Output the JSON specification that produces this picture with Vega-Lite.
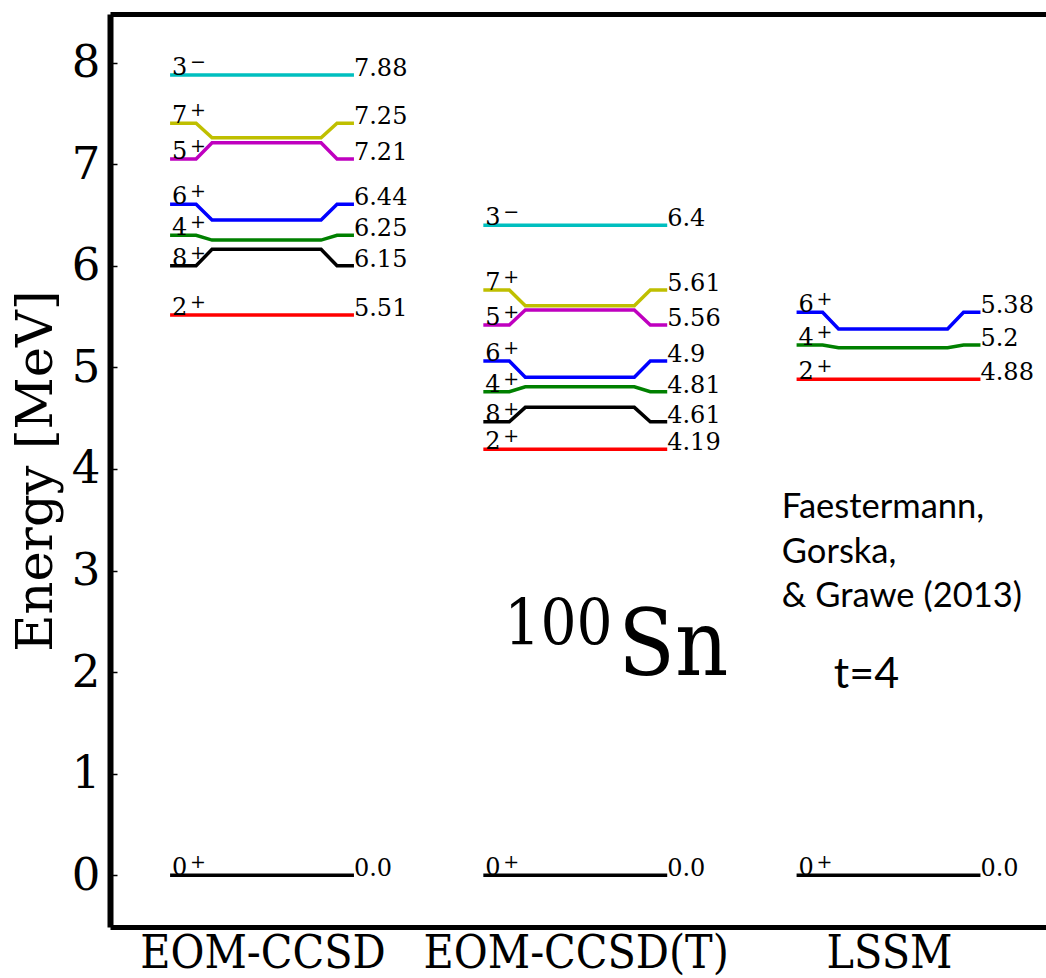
{
  "$schema": "https://vega.github.io/schema/vega-lite/v6.json",
  "width": 936,
  "height": 913,
  "autosize": {"type": "none"},
  "padding": {"left": 110, "top": 14, "right": 0, "bottom": 51},
  "background": "white",
  "config": {"view": {"stroke": null}},
  "datasets": {
    "lines": [
      {"m":"A","s":"3-","o":1,"x":-0.295,"y":7.88},{"m":"A","s":"3-","o":6,"x":0.292,"y":7.88},
      {"m":"A","s":"7+","o":1,"x":-0.295,"y":7.404},{"m":"A","s":"7+","o":2,"x":-0.212,"y":7.404},{"m":"A","s":"7+","o":3,"x":-0.161,"y":7.262},{"m":"A","s":"7+","o":4,"x":0.187,"y":7.262},{"m":"A","s":"7+","o":5,"x":0.238,"y":7.404},{"m":"A","s":"7+","o":6,"x":0.292,"y":7.404},
      {"m":"A","s":"5+","o":1,"x":-0.295,"y":7.052},{"m":"A","s":"5+","o":2,"x":-0.212,"y":7.052},{"m":"A","s":"5+","o":3,"x":-0.161,"y":7.213},{"m":"A","s":"5+","o":4,"x":0.187,"y":7.213},{"m":"A","s":"5+","o":5,"x":0.238,"y":7.052},{"m":"A","s":"5+","o":6,"x":0.292,"y":7.052},
      {"m":"A","s":"6+","o":1,"x":-0.295,"y":6.606},{"m":"A","s":"6+","o":2,"x":-0.212,"y":6.606},{"m":"A","s":"6+","o":3,"x":-0.161,"y":6.451},{"m":"A","s":"6+","o":4,"x":0.187,"y":6.451},{"m":"A","s":"6+","o":5,"x":0.238,"y":6.606},{"m":"A","s":"6+","o":6,"x":0.292,"y":6.606},
      {"m":"A","s":"4+","o":1,"x":-0.295,"y":6.301},{"m":"A","s":"4+","o":2,"x":-0.212,"y":6.301},{"m":"A","s":"4+","o":3,"x":-0.161,"y":6.254},{"m":"A","s":"4+","o":4,"x":0.187,"y":6.254},{"m":"A","s":"4+","o":5,"x":0.238,"y":6.301},{"m":"A","s":"4+","o":6,"x":0.292,"y":6.301},
      {"m":"A","s":"8+","o":1,"x":-0.295,"y":6.001},{"m":"A","s":"8+","o":2,"x":-0.212,"y":6.001},{"m":"A","s":"8+","o":3,"x":-0.161,"y":6.163},{"m":"A","s":"8+","o":4,"x":0.187,"y":6.163},{"m":"A","s":"8+","o":5,"x":0.238,"y":6.001},{"m":"A","s":"8+","o":6,"x":0.292,"y":6.001},
      {"m":"A","s":"2+","o":1,"x":-0.295,"y":5.515},{"m":"A","s":"2+","o":6,"x":0.292,"y":5.515},
      {"m":"A","s":"0+","o":1,"x":-0.295,"y":0},{"m":"A","s":"0+","o":6,"x":0.292,"y":0},
      {"m":"B","s":"3-","o":1,"x":0.705,"y":6.40},{"m":"B","s":"3-","o":6,"x":1.292,"y":6.40},
      {"m":"B","s":"7+","o":1,"x":0.705,"y":5.762},{"m":"B","s":"7+","o":2,"x":0.788,"y":5.762},{"m":"B","s":"7+","o":3,"x":0.839,"y":5.608},{"m":"B","s":"7+","o":4,"x":1.187,"y":5.608},{"m":"B","s":"7+","o":5,"x":1.238,"y":5.762},{"m":"B","s":"7+","o":6,"x":1.292,"y":5.762},
      {"m":"B","s":"5+","o":1,"x":0.705,"y":5.417},{"m":"B","s":"5+","o":2,"x":0.788,"y":5.417},{"m":"B","s":"5+","o":3,"x":0.839,"y":5.565},{"m":"B","s":"5+","o":4,"x":1.187,"y":5.565},{"m":"B","s":"5+","o":5,"x":1.238,"y":5.417},{"m":"B","s":"5+","o":6,"x":1.292,"y":5.417},
      {"m":"B","s":"6+","o":1,"x":0.705,"y":5.063},{"m":"B","s":"6+","o":2,"x":0.788,"y":5.063},{"m":"B","s":"6+","o":3,"x":0.839,"y":4.903},{"m":"B","s":"6+","o":4,"x":1.187,"y":4.903},{"m":"B","s":"6+","o":5,"x":1.238,"y":5.063},{"m":"B","s":"6+","o":6,"x":1.292,"y":5.063},
      {"m":"B","s":"4+","o":1,"x":0.705,"y":4.761},{"m":"B","s":"4+","o":2,"x":0.788,"y":4.761},{"m":"B","s":"4+","o":3,"x":0.839,"y":4.810},{"m":"B","s":"4+","o":4,"x":1.187,"y":4.810},{"m":"B","s":"4+","o":5,"x":1.238,"y":4.761},{"m":"B","s":"4+","o":6,"x":1.292,"y":4.761},
      {"m":"B","s":"8+","o":1,"x":0.705,"y":4.465},{"m":"B","s":"8+","o":2,"x":0.788,"y":4.465},{"m":"B","s":"8+","o":3,"x":0.839,"y":4.607},{"m":"B","s":"8+","o":4,"x":1.187,"y":4.607},{"m":"B","s":"8+","o":5,"x":1.238,"y":4.465},{"m":"B","s":"8+","o":6,"x":1.292,"y":4.465},
      {"m":"B","s":"2+","o":1,"x":0.705,"y":4.194},{"m":"B","s":"2+","o":6,"x":1.292,"y":4.194},
      {"m":"B","s":"0+","o":1,"x":0.705,"y":0},{"m":"B","s":"0+","o":6,"x":1.292,"y":0},
      {"m":"C","s":"6+","o":1,"x":1.705,"y":5.543},{"m":"C","s":"6+","o":2,"x":1.788,"y":5.543},{"m":"C","s":"6+","o":3,"x":1.839,"y":5.378},{"m":"C","s":"6+","o":4,"x":2.187,"y":5.378},{"m":"C","s":"6+","o":5,"x":2.238,"y":5.543},{"m":"C","s":"6+","o":6,"x":2.292,"y":5.543},
      {"m":"C","s":"4+","o":1,"x":1.705,"y":5.221},{"m":"C","s":"4+","o":2,"x":1.788,"y":5.221},{"m":"C","s":"4+","o":3,"x":1.839,"y":5.194},{"m":"C","s":"4+","o":4,"x":2.187,"y":5.194},{"m":"C","s":"4+","o":5,"x":2.238,"y":5.221},{"m":"C","s":"4+","o":6,"x":2.292,"y":5.221},
      {"m":"C","s":"2+","o":1,"x":1.705,"y":4.883},{"m":"C","s":"2+","o":6,"x":2.292,"y":4.883},
      {"m":"C","s":"0+","o":1,"x":1.705,"y":0},{"m":"C","s":"0+","o":6,"x":2.292,"y":0}
    ],
    "labels": [
      {"m":"A","j":"3","p":"−","v":"7.88","xl":-0.295,"xr":0.292,"yl":7.88},
      {"m":"A","j":"7","p":"+","v":"7.25","xl":-0.295,"xr":0.292,"yl":7.404},
      {"m":"A","j":"5","p":"+","v":"7.21","xl":-0.295,"xr":0.292,"yl":7.052},
      {"m":"A","j":"6","p":"+","v":"6.44","xl":-0.295,"xr":0.292,"yl":6.606},
      {"m":"A","j":"4","p":"+","v":"6.25","xl":-0.295,"xr":0.292,"yl":6.301},
      {"m":"A","j":"8","p":"+","v":"6.15","xl":-0.295,"xr":0.292,"yl":6.001},
      {"m":"A","j":"2","p":"+","v":"5.51","xl":-0.295,"xr":0.292,"yl":5.515},
      {"m":"A","j":"0","p":"+","v":"0.0","xl":-0.295,"xr":0.292,"yl":0},
      {"m":"B","j":"3","p":"−","v":"6.4","xl":0.705,"xr":1.292,"yl":6.40},
      {"m":"B","j":"7","p":"+","v":"5.61","xl":0.705,"xr":1.292,"yl":5.762},
      {"m":"B","j":"5","p":"+","v":"5.56","xl":0.705,"xr":1.292,"yl":5.417},
      {"m":"B","j":"6","p":"+","v":"4.9","xl":0.705,"xr":1.292,"yl":5.063},
      {"m":"B","j":"4","p":"+","v":"4.81","xl":0.705,"xr":1.292,"yl":4.761},
      {"m":"B","j":"8","p":"+","v":"4.61","xl":0.705,"xr":1.292,"yl":4.465},
      {"m":"B","j":"2","p":"+","v":"4.19","xl":0.705,"xr":1.292,"yl":4.194},
      {"m":"B","j":"0","p":"+","v":"0.0","xl":0.705,"xr":1.292,"yl":0},
      {"m":"C","j":"6","p":"+","v":"5.38","xl":1.705,"xr":2.292,"yl":5.543},
      {"m":"C","j":"4","p":"+","v":"5.2","xl":1.705,"xr":2.292,"yl":5.221},
      {"m":"C","j":"2","p":"+","v":"4.88","xl":1.705,"xr":2.292,"yl":4.883},
      {"m":"C","j":"0","p":"+","v":"0.0","xl":1.705,"xr":2.292,"yl":0}
    ]
  },
  "resolve": {"axis": {"x": "independent", "y": "independent"}},
  "layer": [
    {
      "data": {"name": "lines"},
      "mark": {"type": "line", "strokeWidth": 3.5, "strokeCap": "butt"},
      "encoding": {
        "x": {"field": "x", "type": "quantitative",
          "scale": {"domain": [-0.4868, 2.5012], "nice": false, "zero": false},
          "axis": {"orient": "bottom", "values": [0, 1, 2], "labelExpr": "['EOM-CCSD','EOM-CCSD(T)','LSSM'][datum.value]",
            "ticks": false, "tickSize": 0, "labelPadding": 4, "labelLimit": 0, "labelFont": "DejaVu Serif Condensed, DejaVu Serif", "labelFontSize": 46,
            "labelColor": "black", "labelFlush": false, "labelOverlap": false, "domainColor": "black", "domainWidth": 5, "grid": false, "title": null}},
        "y": {"field": "y", "type": "quantitative",
          "scale": {"domain": [-0.51, 8.48], "nice": false, "zero": false},
          "axis": {"orient": "left", "values": [0, 0.5, 1, 1.5, 2, 2.5, 3, 3.5, 4, 4.5, 5, 5.5, 6, 6.5, 7, 7.5, 8],
            "labelExpr": "datum.value % 1 === 0 ? datum.label : ''", "format": "d",
            "tickSize": -7, "tickWidth": 1.5, "tickColor": "black", "labelPadding": 17,
            "labelFont": "DejaVu Serif", "labelFontSize": 45, "labelColor": "black", "labelBaseline": "middle",
            "labelOverlap": false, "labelFlush": false,
            "domainColor": "black", "domainWidth": 6, "grid": false,
            "title": "Energy [MeV]", "titleFont": "DejaVu Serif", "titleFontSize": 51, "titleFontWeight": "normal",
            "titleColor": "black", "titlePadding": 9}},
        "color": {"field": "s", "type": "nominal", "legend": null,
          "scale": {"domain": ["3-","7+","5+","6+","4+","8+","2+","0+"],
            "range": ["#00bfbf","#bfbf00","#bf00bf","#0000ff","#008000","#000000","#ff0000","#000000"]}},
        "detail": [{"field": "m"}, {"field": "s"}],
        "order": {"field": "o", "type": "quantitative"}
      }
    },
    {
      "data": {"name": "labels"},
      "mark": {"type": "text", "align": "left", "baseline": "alphabetic", "dx": 2, "font": "DejaVu Serif", "fontSize": 24, "color": "black"},
      "encoding": {
        "x": {"field": "xl", "type": "quantitative", "axis": null},
        "y": {"field": "yl", "type": "quantitative", "axis": null},
        "text": {"field": "j"}
      }
    },
    {
      "data": {"name": "labels"},
      "mark": {"type": "text", "align": "left", "baseline": "alphabetic", "dx": 20, "dy": -7, "font": "DejaVu Serif", "fontSize": 19, "color": "black"},
      "encoding": {
        "x": {"field": "xl", "type": "quantitative", "axis": null},
        "y": {"field": "yl", "type": "quantitative", "axis": null},
        "text": {"field": "p"}
      }
    },
    {
      "data": {"name": "labels"},
      "mark": {"type": "text", "align": "left", "baseline": "alphabetic", "dx": 0, "dy": 1, "font": "DejaVu Serif", "fontSize": 24, "color": "black"},
      "encoding": {
        "x": {"field": "xr", "type": "quantitative", "axis": null},
        "y": {"field": "yl", "type": "quantitative", "axis": null},
        "text": {"field": "v"}
      }
    },
    {
      "data": {"values": [{"t": "100", "x": 0.772, "y": 2.267}]},
      "mark": {"type": "text", "align": "left", "baseline": "alphabetic", "font": "DejaVu Serif Condensed, DejaVu Serif", "fontSize": 63, "color": "black"},
      "encoding": {
        "x": {"field": "x", "type": "quantitative",
          "axis": {"orient": "top", "labels": false, "ticks": false, "domainColor": "black", "domainWidth": 5, "grid": false, "title": null}},
        "y": {"field": "y", "type": "quantitative", "axis": null},
        "text": {"field": "t"}
      }
    },
    {
      "data": {"values": [{"t": "Sn", "x": 1.136, "y": 1.972}]},
      "mark": {"type": "text", "align": "left", "baseline": "alphabetic", "font": "DejaVu Serif Condensed, DejaVu Serif", "fontSize": 92, "color": "black"},
      "encoding": {
        "x": {"field": "x", "type": "quantitative", "axis": null},
        "y": {"field": "y", "type": "quantitative", "axis": null},
        "text": {"field": "t"}
      }
    },
    {
      "data": {"values": [
        {"t": "Faestermann,", "x": 1.658, "y": 3.517},
        {"t": "Gorska,", "x": 1.658, "y": 3.074},
        {"t": "& Grawe (2013)", "x": 1.658, "y": 2.641}
      ]},
      "mark": {"type": "text", "align": "left", "baseline": "alphabetic", "font": "Lato", "fontSize": 34.5, "color": "black"},
      "encoding": {
        "x": {"field": "x", "type": "quantitative", "axis": null},
        "y": {"field": "y", "type": "quantitative", "axis": null},
        "text": {"field": "t"}
      }
    },
    {
      "data": {"values": [{"t": "t=4", "x": 1.824, "y": 1.843}]},
      "mark": {"type": "text", "align": "left", "baseline": "alphabetic", "font": "Lato", "fontSize": 43, "color": "black"},
      "encoding": {
        "x": {"field": "x", "type": "quantitative", "axis": null},
        "y": {"field": "y", "type": "quantitative", "axis": null},
        "text": {"field": "t"}
      }
    }
  ]
}
